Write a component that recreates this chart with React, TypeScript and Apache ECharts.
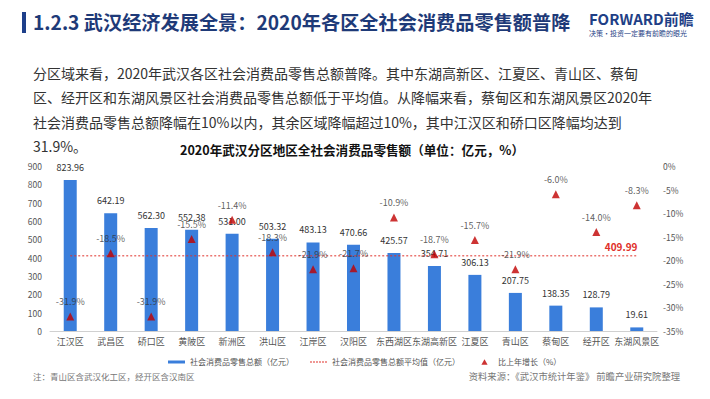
import React, { useEffect, useRef } from "react";
import * as echarts from "echarts";

const categories = ["江汉区", "武昌区", "硚口区", "黄陂区", "新洲区", "洪山区", "江岸区", "汉阳区", "东西湖区", "东湖高新区", "江夏区", "青山区", "蔡甸区", "经开区", "东湖风景区"];
const retailSales = [823.96, 642.19, 562.3, 552.38, 531.0, 503.32, 483.13, 470.66, 425.57, 354.71, 306.13, 207.75, 138.35, 128.79, 19.61];
const growth = [-31.9, -18.5, -31.9, -15.5, -11.4, -18.3, -21.9, -21.7, -10.9, -18.7, -15.7, -21.9, -6.0, -14.0, -8.3];
const averageValue = 409.99;
const leftTicks = { min: 0, max: 900, interval: 100 };
const rightTicks = { min: -35, max: 0, interval: 5 };

const titleText = "1.2.3 武汉经济发展全景：2020年各区全社会消费品零售额普降";
const paragraph = [
  "分区域来看，2020年武汉各区社会消费品零售总额普降。其中东湖高新区、江夏区、青山区、蔡甸",
  "区、经开区和东湖风景区社会消费品零售总额低于平均值。从降幅来看，蔡甸区和东湖风景区2020年",
  "社会消费品零售总额降幅在10%以内，其余区域降幅超过10%，其中江汉区和硚口区降幅均达到",
  "31.9%。",
];
const chartTitle = "2020年武汉分区地区全社会消费品零售额（单位：亿元，%）";
const noteText = "注：青山区含武汉化工区，经开区含汉南区";
const sourceText = "资料来源：《武汉市统计年鉴》 前瞻产业研究院整理";

const FONT = "'Noto Sans CJK SC', 'Noto Sans', sans-serif";

export default function App() {
  const ref = useRef<HTMLDivElement>(null);
  useEffect(() => {
    if (!ref.current) return;
    const chart = echarts.init(ref.current, null, { renderer: "svg" });
    const names = ["社会消费品零售总额（亿元）", "社会消费品零售总额平均值（亿元）", "比上年增长（%）"];
    const dashIcon = "path://M0,0M17,7M0,3L2,3L2,4L0,4ZM3,3L5,3L5,4L3,4ZM6,3L8,3L8,4L6,4ZM9,3L11,3L11,4L9,4ZM12,3L14,3L14,4L12,4ZM15,3L17,3L17,4L15,4Z";
    chart.setOption({
      animation: false,
      backgroundColor: "#ffffff",
      textStyle: { fontFamily: FONT },
      grid: { left: 50, right: 53, top: 166, bottom: 68, containLabel: false },
      graphic: [
        { type: "rect", shape: { x: 22, y: 12, width: 4, height: 21 }, style: { fill: "#1e3f8a" } },
        { type: "text", x: 33, y: 22, style: { text: titleText, fontSize: 19.2, fontWeight: "bold", fill: "#1e3a78", fontFamily: FONT, verticalAlign: "middle" } },
        { type: "text", x: 589, y: 18, style: { text: "FORWARD前瞻", fontSize: 15, fontWeight: "bold", fill: "#1f3f86", fontFamily: FONT, verticalAlign: "middle" } },
        { type: "text", x: 589, y: 33, style: { text: "决策·投资一定要有前瞻的眼光", fontSize: 7, fill: "#1f3f86", fontFamily: FONT, verticalAlign: "middle" } },
        ...paragraph.map((t, i) => ({
          type: "text", x: 33, y: 73 + i * 24.3,
          style: { text: t, fontSize: 14, fill: "#333333", fontFamily: FONT, verticalAlign: "middle" },
        })),
        { type: "text", x: 352, y: 149, style: { text: chartTitle, fontSize: 12.6, fontWeight: "bold", fill: "#111111", fontFamily: FONT, align: "center", verticalAlign: "middle" } },
        { type: "text", x: 33, y: 376, style: { text: noteText, fontSize: 8.5, fill: "#777777", fontFamily: FONT, verticalAlign: "middle" } },
        { type: "text", x: 680, y: 376, style: { text: sourceText, fontSize: 9.3, fill: "#777777", fontFamily: FONT, align: "right", verticalAlign: "middle" } },
      ],
      legend: {
        top: 353,
        left: 163,
        itemGap: 16,
        itemWidth: 17,
        itemHeight: 7,
        textStyle: { fontSize: 8, color: "#555555", fontFamily: FONT },
        data: [
          { name: names[0], icon: "path://M0,0M0,2L17,2L17,5L0,5ZM17,7", itemStyle: { color: "#3a7edb" } },
          { name: names[1], icon: dashIcon, itemStyle: { color: "#e0302a" } },
          { name: names[2], icon: "path://M0,0M17,7M8.5,0.8L11.6,6.2L5.4,6.2Z", itemStyle: { color: "#c00000" } },
        ],
      },
      xAxis: {
        type: "category",
        data: categories,
        axisLine: { lineStyle: { color: "#d0d0d0" } },
        axisTick: { show: false },
        axisLabel: { interval: 0, fontSize: 9, color: "#555555", margin: 6, fontFamily: FONT },
      },
      yAxis: [
        {
          type: "value", ...leftTicks,
          splitLine: { show: false },
          axisLine: { show: false }, axisTick: { show: false },
          axisLabel: { fontSize: 8.5, color: "#555555", margin: 8, fontFamily: FONT },
        },
        {
          type: "value", ...rightTicks, position: "right",
          splitLine: { show: false },
          axisLine: { show: false }, axisTick: { show: false },
          axisLabel: { fontSize: 8.5, color: "#555555", margin: 6, fontFamily: FONT, formatter: (v: number) => `${v}%` },
        },
      ],
      series: [
        {
          name: names[0], type: "bar", yAxisIndex: 0, data: retailSales, barWidth: 13,
          itemStyle: { color: "#3a7edb" },
          label: { show: true, position: "top", distance: 8, fontSize: 9, color: "#333333", fontFamily: FONT, formatter: (p: any) => Number(p.value).toFixed(2) },
        },
        {
          name: names[1], type: "line", yAxisIndex: 0,
          data: categories.map(() => averageValue),
          symbol: "none",
          lineStyle: { color: "#e0302a", width: 1, type: [2, 2] },
          itemStyle: { color: "#e0302a" },
          endLabel: { show: true, formatter: () => averageValue.toFixed(2), color: "#e0302a", fontWeight: "bold", fontSize: 10, offset: [-40, -9], fontFamily: FONT },
          z: 3,
        },
        {
          name: names[2], type: "scatter", yAxisIndex: 1, data: growth,
          symbol: "triangle", symbolSize: 8,
          itemStyle: { color: "#c00000" },
          label: { show: true, position: "top", distance: 6, fontSize: 9, color: "#333333", fontFamily: FONT, formatter: (p: any) => `${Number(p.value).toFixed(1)}%` },
          z: 4,
        },
      ],
    });
    return () => chart.dispose();
  }, []);
  return (
    <div style={{ position: "fixed", left: 0, top: 0, width: 710, height: 399, background: "#fff" }}>
      <div ref={ref} style={{ width: 710, height: 399 }} />
    </div>
  );
}
